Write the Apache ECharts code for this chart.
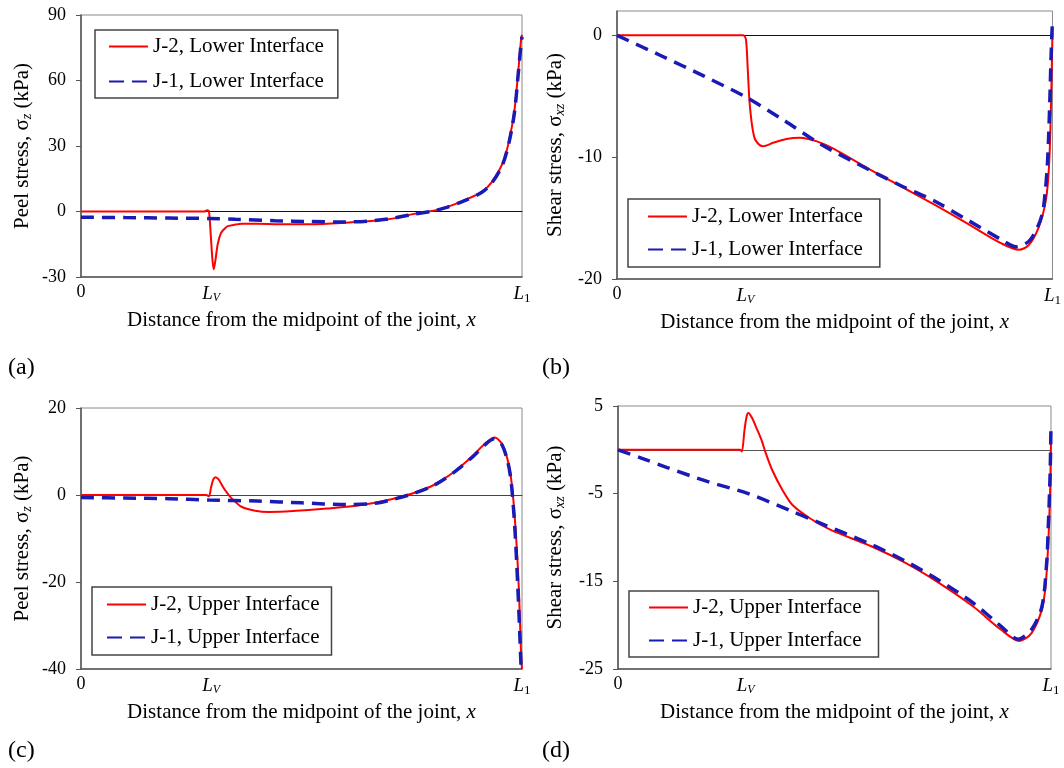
<!DOCTYPE html>
<html>
<head>
<meta charset="utf-8">
<script src="https://cdn.jsdelivr.net/npm/echarts@6/dist/echarts.min.js"></script>
<style>
  html, body { margin: 0; background: #fff; }
  #chart { width: 1064px; height: 768px; }
</style>
</head>
<body>
<div id="chart"></div>
<script>
// x is the distance from the joint midpoint, normalised so that L1 = 1
const LV = 0.295;
const xTicks = [0, LV, 1];

// (a) peel stress, lower interface
const aJ2x = [0, 0.1, 0.2, 0.28, 0.286, 0.29, 0.294, 0.298, 0.301, 0.305, 0.31, 0.317, 0.325, 0.333, 0.35, 0.364, 0.4, 0.45, 0.52, 0.6, 0.675, 0.72, 0.753, 0.8, 0.831, 0.87, 0.909, 0.932, 0.956, 0.971, 0.983, 0.991, 0.998, 1.0];
const aJ2y = [0, 0, 0, 0, 0.6, 0.3, -10, -22, -26.5, -22, -15, -10, -8, -6.7, -6, -5.6, -5.6, -5.8, -5.8, -5.1, -4.0, -2.8, -1.2, 0.4, 2.1, 5.2, 9, 13.6, 22, 32.7, 46.5, 63, 79, 81];
const aJ1x = [0, 0.1, 0.2, 0.29, 0.35, 0.44, 0.52, 0.6, 0.65, 0.7, 0.753, 0.8, 0.831, 0.87, 0.909, 0.932, 0.956, 0.971, 0.983, 0.991, 0.997, 1.0];
const aJ1y = [-2.6, -2.8, -3.0, -3.2, -3.6, -4.2, -4.6, -4.8, -4.4, -3.3, -1.3, 0.3, 2.0, 5.0, 8.8, 13.2, 21.5, 32, 45.5, 62, 75, 80];
const aTicks = [-30, 0, 30, 60, 90];

// (b) shear stress, lower interface
const bJ2x = [0, 0.1, 0.2, 0.28, 0.29, 0.296, 0.3, 0.304, 0.308, 0.312, 0.318, 0.335, 0.36, 0.389, 0.42, 0.459, 0.497, 0.575, 0.652, 0.729, 0.807, 0.884, 0.923, 0.946, 0.969, 0.985, 0.992, 0.996, 1.0];
const bJ2y = [0, 0, 0, 0, 0, -0.3, -2.6, -5.3, -6.8, -7.8, -8.6, -9.1, -8.8, -8.5, -8.4, -8.7, -9.3, -10.9, -12.4, -13.9, -15.5, -17.1, -17.6, -17.2, -15.7, -13.5, -10.8, -6.7, 0.2];
const bJ1x = [0, 0.1, 0.2, 0.296, 0.38, 0.466, 0.55, 0.65, 0.729, 0.807, 0.884, 0.915, 0.946, 0.965, 0.977, 0.983, 0.988, 0.991, 0.994, 0.997, 1.0];
const bJ1y = [0, -1.65, -3.35, -5.07, -6.9, -8.9, -10.5, -12.3, -13.6, -15.2, -16.8, -17.35, -16.9, -15.8, -14.6, -13, -10.8, -8.5, -5.3, -1.5, 1.2];
const bTicks = [-20, -10, 0];

// (c) peel stress, upper interface
const cJ2x = [0, 0.1, 0.2, 0.284, 0.29, 0.295, 0.3, 0.305, 0.312, 0.32, 0.329, 0.34, 0.364, 0.395, 0.426, 0.48, 0.558, 0.636, 0.699, 0.753, 0.8, 0.847, 0.886, 0.917, 0.938, 0.956, 0.971, 0.979, 0.987, 0.993, 0.998, 1.0];
const cJ2y = [0, 0, 0, 0, -0.3, 1.8, 3.6, 4.1, 3.6, 2.2, 0.8, -0.6, -2.7, -3.6, -3.9, -3.7, -3.1, -2.3, -1.1, 0.4, 2.3, 5.4, 8.8, 11.9, 13.2, 11.5, 6.5, 0.4, -10.3, -21.8, -37, -40];
const cJ1x = [0, 0.1, 0.2, 0.29, 0.4, 0.5, 0.6, 0.66, 0.7, 0.753, 0.8, 0.847, 0.886, 0.917, 0.935, 0.953, 0.968, 0.976, 0.984, 0.99, 0.995, 0.998];
const cJ1y = [-0.6, -0.7, -0.85, -1.15, -1.4, -1.8, -2.2, -2.0, -1.2, 0.3, 2.2, 5.3, 8.6, 11.6, 12.9, 11.8, 7.5, 2.5, -8, -20, -32, -40];
const cTicks = [-40, -20, 0, 20];

// (d) shear stress, upper interface
const dJ2x = [0, 0.1, 0.2, 0.282, 0.286, 0.292, 0.297, 0.301, 0.31, 0.318, 0.325, 0.333, 0.34, 0.356, 0.38, 0.403, 0.443, 0.49, 0.585, 0.664, 0.742, 0.821, 0.884, 0.927, 0.955, 0.979, 0.988, 0.994, 0.998, 1.0];
const dJ2y = [0, 0, 0, 0, -0.2, 2.2, 3.8, 4.2, 3.6, 2.7, 1.9, 0.9, -0.2, -2.3, -4.6, -6.3, -7.8, -9.1, -11, -12.9, -15.2, -17.9, -20.5, -21.8, -20.9, -18.2, -15.2, -10.3, -4.6, 1.1];
const dJ1x = [0, 0.057, 0.112, 0.206, 0.301, 0.396, 0.459, 0.585, 0.664, 0.742, 0.821, 0.884, 0.924, 0.955, 0.979, 0.99, 0.994, 0.998, 1.0];
const dJ1y = [0, -1.0, -2.0, -3.6, -5.0, -6.9, -8.2, -10.8, -12.7, -14.9, -17.5, -20.1, -21.6, -20.5, -17.9, -12.9, -8.4, -2.7, 3];
const dTicks = [-25, -15, -5, 5];

const FONT = 'Liberation Serif';
const RED = '#ff0000';
const BLUE = '#1a1ab4';
const DASH = [13, 8];

const pts = (xs, ys) => xs.map((x, i) => [x, ys[i]]);

const panels = [
  { tag: '(a)', grid: { left: 81, top: 15, width: 441, height: 262 }, min: -30, max: 90, ticks: aTicks,
    name: 'Peel stress, σ{s|z} (kPa)', nameGap: 47, where: 'Lower', zeroColor: '#111',
    j2: pts(aJ2x, aJ2y), j1: pts(aJ1x, aJ1y), tagPos: [8, 356],
    legend: { left: 95, top: 30, padding: [6, 14, 6, 13], gap: 14 } },
  { tag: '(b)', grid: { left: 617, top: 11, width: 441, height: 268 }, min: -20, max: 2, ticks: bTicks,
    name: 'Shear stress, σ{s|xz} (kPa)', nameGap: 50, where: 'Lower', zeroColor: '#111',
    j2: pts(bJ2x, bJ2y), j1: pts(bJ1x, bJ1y), tagPos: [542, 356],
    legend: { left: 628, top: 199, padding: [7, 17, 7, 19], gap: 12 } },
  { tag: '(c)', grid: { left: 81, top: 408, width: 441, height: 261 }, min: -40, max: 20, ticks: cTicks,
    name: 'Peel stress, σ{s|z} (kPa)', nameGap: 47, where: 'Upper', zeroColor: '#444',
    j2: pts(cJ2x, cJ2y), j1: pts(cJ1x, cJ1y), tagPos: [8, 739],
    legend: { left: 92, top: 587, padding: [7, 12, 7, 14], gap: 12 } },
  { tag: '(d)', grid: { left: 618, top: 406, width: 433, height: 263 }, min: -25, max: 5, ticks: dTicks,
    name: 'Shear stress, σ{s|xz} (kPa)', nameGap: 51, where: 'Upper', zeroColor: '#555',
    j2: pts(dJ2x, dJ2y), j1: pts(dJ1x, dJ1y), tagPos: [542, 739],
    legend: { left: 629, top: 591, padding: [6, 17, 6, 19], gap: 12 } },
];

const option = {
  animation: false,
  backgroundColor: '#fff',
  textStyle: { fontFamily: FONT, color: '#000' },
  grid: [], xAxis: [], yAxis: [], series: [], legend: [], graphic: [],
};

panels.forEach((p, i) => {
  const j2Name = 'J-2, ' + p.where + ' Interface';
  const j1Name = 'J-1, ' + p.where + ' Interface';

  option.grid.push(Object.assign({ show: true, borderColor: '#8a8a8a', borderWidth: 1 }, p.grid));

  // main x axis with 0, Lv, L1 labels
  option.xAxis.push({
    type: 'value', gridIndex: i, min: 0, max: 1, position: 'bottom',
    name: 'Distance from the midpoint of the joint, {it|x}', nameLocation: 'middle', nameGap: 33,
    nameTextStyle: { fontFamily: FONT, fontSize: 21, color: '#000',
      rich: { it: { fontFamily: FONT, fontSize: 21, fontStyle: 'italic' } } },
    axisLine: { onZero: false, lineStyle: { color: '#555', width: 1.5 } },
    axisTick: { show: false },
    splitLine: { show: false },
    axisLabel: {
      customValues: xTicks, margin: 6, fontSize: 18, color: '#000', fontFamily: FONT,
      formatter: v => v === 0 ? '0' : (v === 1 ? '{i|L}{n|1}' : '{i|L}{v|V}'),
      rich: {
        i: { fontFamily: FONT, fontSize: 19, fontStyle: 'italic' },
        n: { fontFamily: FONT, fontSize: 13, padding: [9, 0, 0, 0] },
        v: { fontFamily: FONT, fontSize: 12, fontStyle: 'italic', padding: [9, 0, 0, 0] },
      },
    },
  });
  // zero reference line
  option.xAxis.push({
    type: 'value', gridIndex: i, min: 0, max: 1, position: 'top',
    axisLine: { onZero: true, lineStyle: { color: p.zeroColor, width: 1 } },
    axisTick: { show: false }, axisLabel: { show: false }, splitLine: { show: false },
  });

  option.yAxis.push({
    type: 'value', gridIndex: i, min: p.min, max: p.max,
    name: p.name, nameLocation: 'middle', nameGap: p.nameGap,
    nameTextStyle: { fontFamily: FONT, fontSize: 21, color: '#000',
      rich: { s: { fontFamily: FONT, fontSize: 14, fontStyle: 'italic', padding: [10, 0, 0, 0] } } },
    axisLine: { onZero: false, lineStyle: { color: '#555', width: 1.5 } },
    axisTick: { customValues: p.ticks, length: 5, lineStyle: { color: '#555' } },
    axisLabel: { customValues: p.ticks, margin: 15, fontSize: 18, color: '#000', fontFamily: FONT },
    splitLine: { show: false },
  });

  option.series.push({
    name: j2Name, type: 'line', xAxisIndex: 2 * i, yAxisIndex: i,
    data: p.j2, symbol: 'none', smooth: 0.3, z: 3,
    lineStyle: { color: RED, width: 2 }, itemStyle: { color: RED },
  });
  option.series.push({
    name: j1Name, type: 'line', xAxisIndex: 2 * i, yAxisIndex: i,
    data: p.j1, symbol: 'none', smooth: 0.3, z: 4,
    lineStyle: { color: BLUE, width: 3.5, type: DASH }, itemStyle: { color: BLUE },
  });

  option.legend.push({
    data: [j2Name, { name: j1Name, lineStyle: { type: [15, 8] } }],
    orient: 'vertical', left: p.legend.left, top: p.legend.top,
    backgroundColor: '#fff', borderColor: '#444', borderWidth: 1.5, borderRadius: 0,
    padding: p.legend.padding, itemWidth: 39, itemHeight: 14, itemGap: p.legend.gap,
    selectedMode: false,
    itemStyle: { opacity: 0 },
    textStyle: { fontFamily: FONT, fontSize: 21, color: '#000' },
  });

  option.graphic.push({
    type: 'text', left: p.tagPos[0], top: p.tagPos[1],
    style: { text: p.tag, fontFamily: FONT, fontSize: 24, fill: '#000' },
  });
});

const chart = echarts.init(document.getElementById('chart'), null, { renderer: 'canvas' });
chart.setOption(option);
</script>
</body>
</html>
